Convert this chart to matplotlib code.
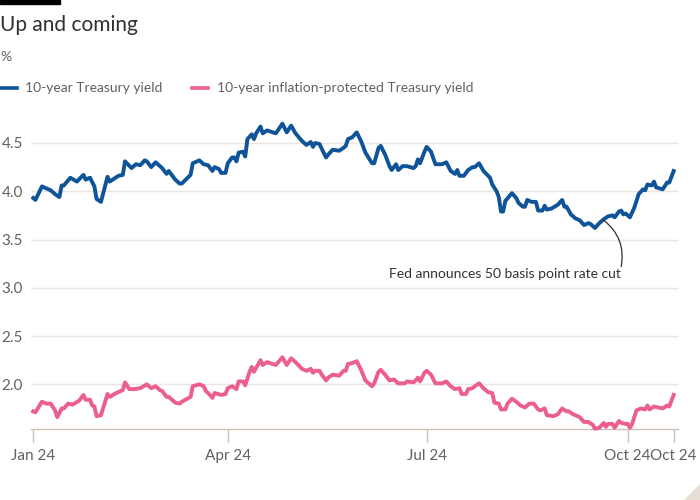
import matplotlib.pyplot as plt
import matplotlib.dates as mdates
import numpy as np
import pandas as pd
from matplotlib.patches import Rectangle, Polygon

plt.rcParams['font.family'] = ['Lato', 'DejaVu Sans']

start = pd.Timestamp('2024-01-03')

# days since start, 10-year Treasury yield
ust_days = [0, 1, 4, 7, 8, 10, 12, 13, 14, 17, 20, 23, 24, 26, 28, 29, 31, 34, 35, 39,
            41, 42, 45, 47, 49, 51, 52, 54, 56, 58, 59, 61, 62, 65, 67, 68, 72, 73, 76, 78,
            80, 82, 83, 85, 86, 88, 89, 91, 92, 93, 94, 96, 97, 98, 100, 101, 102, 104, 105, 107,
            111, 114, 116, 118, 120, 123, 125, 127, 128, 129, 131, 132, 134, 135, 137, 140, 142, 143, 144, 146,
            148, 150, 152, 155, 156, 158, 159, 161, 163, 164, 166, 167, 169, 171, 174, 175, 176, 177, 179, 180,
            182, 184, 187, 189, 191, 193, 194, 195, 197, 199, 201, 202, 204, 206, 209, 210, 212, 213, 214, 215,
            216, 219, 221, 222, 224, 225, 226, 228, 230, 231, 233, 234, 235, 237, 240, 242, 243, 244, 246, 248,
            250, 252, 254, 255, 257, 259, 261, 263, 265, 266, 268, 269, 270, 271, 273, 275, 277, 279, 280, 281,
            283, 284, 285, 288, 290, 291, 293]
ust_yield = [3.93, 3.91, 4.05, 4.02, 4.01, 3.97, 3.94, 4.06, 4.06, 4.14, 4.10, 4.17, 4.12, 4.14, 4.05, 3.92, 3.89, 4.15, 4.10, 4.16,
             4.17, 4.31, 4.24, 4.28, 4.27, 4.32, 4.31, 4.25, 4.30, 4.26, 4.24, 4.18, 4.21, 4.12, 4.08, 4.08, 4.17, 4.29, 4.32, 4.28,
             4.27, 4.21, 4.25, 4.23, 4.19, 4.19, 4.29, 4.35, 4.35, 4.31, 4.40, 4.41, 4.36, 4.54, 4.59, 4.54, 4.60, 4.67, 4.60, 4.63,
             4.60, 4.70, 4.61, 4.68, 4.60, 4.52, 4.48, 4.51, 4.46, 4.50, 4.49, 4.44, 4.35, 4.38, 4.43, 4.42, 4.45, 4.47, 4.54, 4.56,
             4.61, 4.52, 4.40, 4.29, 4.29, 4.45, 4.47, 4.38, 4.26, 4.22, 4.28, 4.22, 4.26, 4.26, 4.24, 4.26, 4.33, 4.29, 4.41, 4.46,
             4.41, 4.28, 4.28, 4.30, 4.21, 4.18, 4.22, 4.16, 4.16, 4.22, 4.25, 4.25, 4.29, 4.21, 4.14, 4.07, 4.00, 3.94, 3.79, 3.79,
             3.90, 3.98, 3.93, 3.88, 3.84, 3.84, 3.91, 3.89, 3.89, 3.80, 3.80, 3.85, 3.81, 3.82, 3.86, 3.91, 3.84, 3.84, 3.76, 3.72,
             3.70, 3.65, 3.67, 3.66, 3.62, 3.67, 3.71, 3.74, 3.75, 3.73, 3.79, 3.80, 3.76, 3.77, 3.73, 3.83, 3.97, 4.02, 4.01, 4.07,
             4.06, 4.10, 4.04, 4.02, 4.09, 4.09, 4.21]

# days since start, 10-year TIPS yield
tips_days = [0, 1, 4, 6, 8, 10, 11, 13, 14, 16, 18, 21, 23, 24, 26, 27, 28, 29, 31, 34,
             35, 38, 41, 42, 44, 46, 49, 52, 54, 56, 58, 59, 61, 62, 65, 67, 68, 72, 73, 76,
             78, 79, 80, 82, 83, 86, 88, 89, 91, 93, 94, 96, 97, 99, 100, 101, 102, 104, 105, 107,
             111, 114, 116, 118, 120, 123, 125, 127, 128, 129, 131, 132, 134, 135, 137, 140, 142, 143, 144, 146,
             148, 150, 152, 155, 156, 158, 159, 161, 163, 165, 167, 170, 171, 174, 175, 176, 177, 179, 180, 182,
             184, 187, 189, 191, 193, 195, 196, 198, 199, 201, 202, 204, 206, 208, 210, 211, 213, 214, 216, 217,
             219, 221, 223, 225, 227, 229, 231, 232, 234, 235, 238, 240, 242, 244, 245, 247, 250, 252, 254, 256,
             257, 259, 261, 262, 263, 265, 266, 268, 269, 271, 272, 273, 274, 276, 278, 280, 281, 282, 284, 286,
             288, 290, 291, 293]
tips_yield = [1.72, 1.71, 1.82, 1.80, 1.80, 1.73, 1.66, 1.75, 1.75, 1.80, 1.79, 1.83, 1.89, 1.84, 1.84, 1.78, 1.77, 1.67, 1.68, 1.90,
              1.87, 1.91, 1.94, 2.02, 1.95, 1.95, 1.96, 2.00, 1.96, 1.98, 1.94, 1.93, 1.87, 1.87, 1.81, 1.80, 1.82, 1.87, 1.98, 2.00,
              1.98, 1.93, 1.91, 1.86, 1.91, 1.89, 1.90, 1.96, 1.98, 1.95, 2.03, 2.03, 1.99, 2.13, 2.18, 2.13, 2.17, 2.25, 2.20, 2.23,
              2.20, 2.28, 2.20, 2.27, 2.23, 2.16, 2.14, 2.16, 2.12, 2.14, 2.14, 2.10, 2.04, 2.07, 2.10, 2.09, 2.14, 2.14, 2.21, 2.22,
              2.24, 2.15, 2.04, 1.98, 2.01, 2.13, 2.15, 2.10, 2.04, 2.05, 2.01, 2.01, 2.03, 2.02, 2.04, 2.07, 2.03, 2.12, 2.14, 2.10,
              2.01, 2.01, 2.03, 1.98, 1.95, 1.96, 1.90, 1.90, 1.95, 1.96, 1.98, 2.01, 1.96, 1.92, 1.91, 1.81, 1.80, 1.74, 1.74, 1.80,
              1.85, 1.82, 1.78, 1.76, 1.80, 1.80, 1.74, 1.73, 1.75, 1.68, 1.67, 1.69, 1.75, 1.72, 1.72, 1.69, 1.66, 1.61, 1.61, 1.58,
              1.54, 1.55, 1.60, 1.56, 1.59, 1.59, 1.55, 1.62, 1.60, 1.59, 1.59, 1.55, 1.59, 1.73, 1.75, 1.74, 1.78, 1.74, 1.77, 1.76,
              1.75, 1.78, 1.77, 1.89]

yticks = [2.0, 2.5, 3.0, 3.5, 4.0, 4.5]
tick_dates = ['2024-01-03', '2024-04-01', '2024-07-01', '2024-10-01', '2024-10-22']
tick_labels = ['Jan 24', 'Apr 24', 'Jul 24', 'Oct 24', 'Oct 24']

blue = '#0f5499'
pink = '#eb5e8d'
txt = '#66605c'

ust_x = start + pd.to_timedelta(ust_days, unit='D')
tips_x = start + pd.to_timedelta(tips_days, unit='D')

fig = plt.figure(figsize=(7, 5), dpi=100)
fig.patch.set_facecolor('white')
ax = fig.add_axes([0.0443, 0.1414, 0.9243, 0.6286])

ax.plot(ust_x, ust_yield, color=blue, linewidth=2.8, solid_joinstyle='round', zorder=3)
ax.plot(tips_x, tips_yield, color=pink, linewidth=2.8, solid_joinstyle='round', zorder=3, clip_on=False)

ax.set_ylim(1.534, 4.79)
ax.set_xlim(pd.Timestamp('2024-01-02'), pd.Timestamp('2024-10-24'))

ax.set_yticks(yticks)
ax.set_yticklabels(['%.1f' % v for v in yticks])
ax.grid(axis='y', color='#ebe5df', linewidth=1)
ax.set_axisbelow(True)
ax.tick_params(axis='y', length=0, pad=6, labelsize=11, labelcolor=txt)

ax.set_xticks(pd.to_datetime(tick_dates))
ax.set_xticklabels(tick_labels)
ax.tick_params(axis='x', length=9, width=1, color='#ccc1b7', pad=5, labelsize=11, labelcolor=txt)

for s in ['top', 'right', 'left']:
    ax.spines[s].set_visible(False)
ax.spines['bottom'].set_color('#ccc1b7')
ax.spines['bottom'].set_linewidth(1)

# annotation for the Fed cut
cut_day = start + pd.Timedelta(days=261)
lbl_day = start + pd.Timedelta(days=269)
ax.annotate('', xy=(cut_day, 3.70), xytext=(lbl_day, 3.22),
            arrowprops=dict(arrowstyle='-', color='#33302e', linewidth=0.9,
                            connectionstyle='arc3,rad=0.3', shrinkA=0, shrinkB=0))
ax.text(lbl_day, 3.14, 'Fed announces 50 basis point rate cut', ha='right', va='center',
        fontsize=10, color='#33302e')

# header
fig.add_artist(Rectangle((0, 496 / 500), 60 / 700, 4 / 500, transform=fig.transFigure,
                         color='black', clip_on=False))
fig.text(0.0, 1 - 25 / 500, 'Up and coming', fontsize=15, color='#33302e', va='center', ha='left')
fig.text(0.0, 1 - 57 / 500, '%', fontsize=10, color=txt, va='center', ha='left')

ly = 1 - 88 / 500
fig.add_artist(plt.Line2D([0, 17 / 700], [ly, ly], color=blue, linewidth=2.6, transform=fig.transFigure))
fig.text(25 / 700, ly, '10-year Treasury yield', fontsize=10, color=txt, va='center', ha='left')
fig.add_artist(plt.Line2D([192 / 700, 208 / 700], [ly, ly], color=pink, linewidth=2.6, transform=fig.transFigure))
fig.text(217 / 700, ly, '10-year inflation-protected Treasury yield', fontsize=10, color=txt, va='center', ha='left')

# corner mark
fig.add_artist(Polygon([[1.0, 0.0], [1.0, 15 / 500], [1 - 15 / 700, 0.0]], closed=True,
                       transform=fig.transFigure, color='#e6ddd3'))

fig.savefig('out.png', dpi=100, facecolor='white')
